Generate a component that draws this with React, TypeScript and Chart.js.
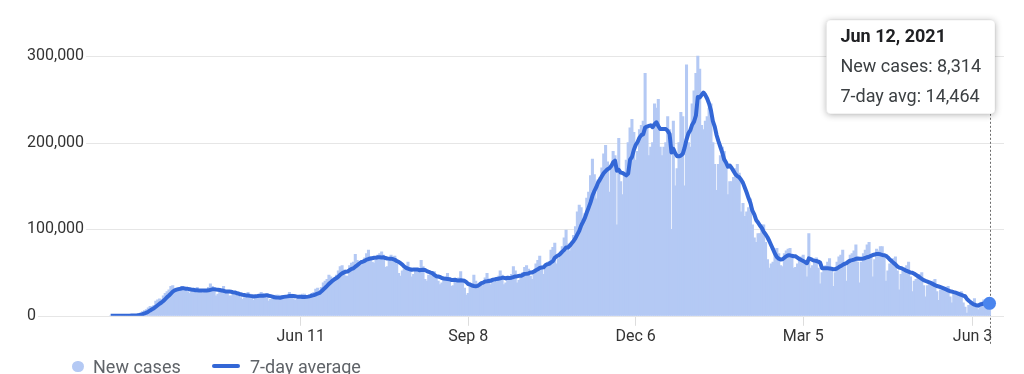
import React, { useEffect, useRef } from "react";
import { Chart, registerables, Tooltip } from "chart.js";

Chart.register(...registerables);

// ---- data (daily new cases, in thousands), first day = Mon Mar 2, 2020 ----
const START_DATE = [2020, 2, 2]; // year, monthIndex, day
const MONTHS = ["Jan", "Feb", "Mar", "Apr", "May", "Jun", "Jul", "Aug", "Sep", "Oct", "Nov", "Dec"];

const newCasesK: number[] = [
  0.02, 0.03, 0.04, 0.06, 0.07, 0.1, 0.12,
  0.12, 0.19, 0.29, 0.42, 0.55, 0.7, 0.83,
  1.3, 1.8, 3.3, 4.8, 6.0, 7.3, 9.2,
  11, 10.5, 12, 17, 18.5, 19.5, 19,
  23, 26, 28, 30, 34, 35, 29,
  29, 31, 31, 34, 33, 32, 28,
  26, 27, 30, 31, 33, 30, 27,
  26, 27, 30, 33, 37, 34, 28,
  23, 25, 28, 30, 34, 29, 27,
  23, 23, 25, 28, 28, 26, 21,
  19, 21, 22, 27, 25, 24, 18,
  22, 22, 24, 27, 26, 25, 21,
  17, 19, 20, 22, 24, 24, 20,
  21, 22, 22, 24, 27, 25, 20,
  18, 19, 21, 24, 25, 25, 21,
  20, 23, 26, 27, 31, 32, 26,
  33, 38, 40, 42, 47, 45, 40,
  44, 47, 52, 57, 58, 53, 46,
  46, 58, 61, 62, 71, 64, 59,
  58, 63, 67, 72, 76, 68, 62,
  61, 64, 70, 72, 74, 70, 56,
  57, 63, 70, 68, 69, 60, 49,
  46, 52, 54, 58, 62, 55, 45,
  48, 53, 54, 52, 64, 57, 42,
  40, 47, 47, 47, 51, 46, 40,
  36, 38, 44, 45, 49, 44, 34,
  35, 41, 38, 44, 51, 42, 32,
  24, 26, 34, 36, 47, 40, 35,
  34, 38, 39, 44, 49, 43, 36,
  43, 39, 44, 46, 52, 47, 36,
  38, 45, 42, 48, 57, 52, 38,
  41, 45, 50, 56, 58, 54, 46,
  42, 52, 60, 64, 69, 57, 48,
  58, 61, 63, 76, 79, 84, 60,
  66, 74, 80, 90, 99, 83, 75,
  85, 93, 103, 120, 128, 125, 105,
  118, 136, 143, 162, 181, 163, 135,
  157, 160, 171, 187, 197, 178, 143,
  175, 190, 185, 105, 205, 155, 140,
  165, 180, 200, 217, 227, 212, 180,
  190, 215, 220, 225, 280, 220, 185,
  195, 200, 245, 240, 250, 195, 185,
  195, 200, 230, 215, 100, 225, 150,
  170, 200, 235, 230, 150, 290, 200,
  195, 245, 260, 280, 300, 285, 220,
  215, 225, 230, 240, 245, 200, 175,
  145, 175, 185, 195, 190, 175, 140,
  155, 155, 160, 170, 175, 165, 120,
  130, 115, 120, 125, 135, 105, 90,
  85, 95, 95, 105, 105, 85, 65,
  55, 60, 62, 70, 78, 72, 58,
  57, 72, 75, 77, 78, 68, 55,
  56, 60, 66, 68, 70, 60, 45,
  95, 55, 58, 63, 67, 55, 37,
  50, 55, 58, 62, 66, 52, 34,
  50, 62, 68, 70, 76, 60, 40,
  62, 70, 72, 75, 82, 62, 38,
  62, 72, 76, 82, 85, 70, 45,
  65, 77, 75, 80, 80, 68, 40,
  52, 60, 62, 66, 68, 52, 30,
  48, 52, 55, 58, 62, 45, 28,
  40, 42, 45, 48, 50, 35, 22,
  35, 36, 38, 40, 42, 28, 18,
  30, 30, 32, 33, 34, 22, 15,
  25, 26, 27, 27, 28, 15, 10,
  3, 12, 14, 16, 20, 10, 7.104,
  12.21, 15.87, 18.325, 18.98, 20.445, 8.314,
];

const xTickIndex = [101, 190, 279, 368, 458];
const xTickLabels = ["Jun 11", "Sep 8", "Dec 6", "Mar 5", "Jun 3"];
const yTickValues = [0, 100000, 200000, 300000];
const seriesLabels = ["New cases", "7-day average"];
const tooltipLabels = ["New cases", "7-day avg"];

const BAR_COLOR = "#b4c9f4";
const LINE_COLOR = "#3367d6";
const POINT_COLOR = "#4a85ee";

const newCases = newCasesK.map((v) => Math.round(v * 1000));
const sevenDayAvg = newCases.map((_, i) => {
  const s = Math.max(0, i - 6);
  let sum = 0;
  for (let j = s; j <= i; j++) sum += newCases[j];
  return Math.round(sum / (i - s + 1));
});
const LAST = newCases.length - 1;

function dateLabel(i: number) {
  const d = new Date(Date.UTC(START_DATE[0], START_DATE[1], START_DATE[2] + i));
  return `${MONTHS[d.getUTCMonth()]} ${d.getUTCDate()}, ${d.getUTCFullYear()}`;
}

(Tooltip.positioners as any).topRightFixed = function (items: any[]) {
  if (!items || !items.length) return false;
  const el = items[0].element;
  return { x: el.x + 1.5, y: 20 };
};

const decorPlugin = {
  id: "decor",
  beforeDatasetsDraw(chart: any) {
    const { ctx, chartArea, scales } = chart;
    const y = scales.y;
    ctx.save();
    ctx.font = "16px Roboto";
    ctx.strokeStyle = "#e6e6e6";
    ctx.lineWidth = 1;
    y.ticks.forEach((t: any) => {
      const py = Math.round(y.getPixelForValue(t.value)) + 0.5;
      const w = ctx.measureText(Number(t.value).toLocaleString("en-US")).width;
      ctx.beginPath();
      ctx.moveTo(y.left + w + 2, py);
      ctx.lineTo(chartArea.right, py);
      ctx.stroke();
    });
    // dotted hover line
    const meta = chart.getDatasetMeta(1);
    const el = meta.data[LAST];
    const tt = chart.tooltip;
    if (el && tt && tt.opacity) {
      const x = Math.round(el.x) + 0.5;
      ctx.strokeStyle = "#6b6b6b";
      ctx.setLineDash([2, 2]);
      ctx.beginPath();
      ctx.moveTo(x, tt.y + tt.height);
      ctx.lineTo(x, chartArea.bottom + 30);
      ctx.stroke();
    }
    ctx.restore();
  },
  beforeTooltipDraw(chart: any, args: any) {
    const tt = args.tooltip;
    if (!tt || !tt.opacity) return;
    const { ctx } = chart;
    ctx.save();
    ctx.shadowColor = "rgba(0,0,0,0.3)";
    ctx.shadowBlur = 7;
    ctx.shadowOffsetY = 1;
    ctx.fillStyle = "#fff";
    ctx.beginPath();
    if (ctx.roundRect) ctx.roundRect(tt.x, tt.y, tt.width, tt.height, 4);
    else ctx.rect(tt.x, tt.y, tt.width, tt.height);
    ctx.fill();
    ctx.restore();
  },
};

export default function App() {
  const canvasRef = useRef<HTMLCanvasElement | null>(null);

  useEffect(() => {
    if (!canvasRef.current) return;
    Chart.defaults.font.family = "Roboto";
    const chart = new Chart(canvasRef.current, {
      type: "bar",
      data: {
        datasets: [
          {
            type: "bar",
            label: seriesLabels[0],
            data: newCases.map((v, i) => ({ x: i, y: v })),
            backgroundColor: BAR_COLOR,
            borderWidth: 0,
            barThickness: 2.4,
            order: 2,
          } as any,
          {
            type: "line",
            label: seriesLabels[1],
            data: sevenDayAvg.map((v, i) => ({ x: i, y: v })),
            borderColor: LINE_COLOR,
            borderWidth: 4,
            borderJoinStyle: "round",
            borderCapStyle: "butt",
            tension: 0,
            pointRadius: (c: any) => (c.dataIndex === LAST ? 6.5 : 0),
            pointBackgroundColor: POINT_COLOR,
            pointBorderColor: POINT_COLOR,
            pointBorderWidth: 0,
            order: 1,
          } as any,
        ],
      },
      options: {
        responsive: false,
        animation: false,
        devicePixelRatio: 1,
        events: [],
        layout: { padding: { left: 27, right: 20, top: 20, bottom: 25 } },
        scales: {
          x: {
            type: "linear",
            min: -12.3,
            max: 474.7,
            offset: false,
            afterBuildTicks: (scale: any) => {
              scale.ticks = xTickIndex.map((v) => ({ value: v }));
            },
            ticks: {
              autoSkip: false,
              maxRotation: 0,
              padding: 2,
              color: "#333",
              font: { size: 16, family: "Roboto" },
              callback: (v: any) => {
                const k = xTickIndex.indexOf(Number(v));
                return k >= 0 ? xTickLabels[k] : "";
              },
            },
            grid: {
              display: true,
              offset: false,
              drawOnChartArea: false,
              drawTicks: true,
              tickLength: 10,
              color: "#dddddd",
            },
            border: { display: false },
          },
          y: {
            type: "linear",
            min: 0,
            max: 341700,
            afterFit: (scale: any) => {
              scale.width = 60.5;
            },
            afterBuildTicks: (scale: any) => {
              scale.ticks = yTickValues.map((v) => ({ value: v }));
            },
            ticks: {
              crossAlign: "far",
              padding: 3,
              color: "#333",
              font: { size: 16, family: "Roboto" },
              callback: (v: any) => Number(v).toLocaleString("en-US"),
            },
            grid: { display: false },
            border: { display: false },
          },
        },
        plugins: {
          legend: { display: false },
          tooltip: {
            enabled: true,
            position: "topRightFixed" as any,
            xAlign: "right",
            yAlign: "top",
            caretSize: 0,
            caretPadding: 0,
            cornerRadius: 4,
            backgroundColor: "#ffffff",
            borderColor: "rgba(0,0,0,0.06)",
            borderWidth: 1,
            displayColors: false,
            titleColor: "#202124",
            bodyColor: "#3c4043",
            titleFont: { size: 18, weight: "bold", family: "Roboto" },
            bodyFont: { size: 18, family: "Roboto" },
            titleMarginBottom: 8,
            bodySpacing: 8,
            padding: { left: 14, right: 14, top: 7, bottom: 6 },
            itemSort: (a: any, b: any) => a.datasetIndex - b.datasetIndex,
            callbacks: {
              title: (items: any[]) => dateLabel(items[0].dataIndex),
              label: (item: any) =>
                `${tooltipLabels[item.datasetIndex]}: ${Number(item.parsed.y).toLocaleString("en-US")}`,
            },
          },
        },
      },
      plugins: [decorPlugin],
    });
    chart.tooltip!.setActiveElements(
      [
        { datasetIndex: 0, index: LAST },
        { datasetIndex: 1, index: LAST },
      ],
      { x: 0, y: 0 }
    );
    chart.update();
    return () => chart.destroy();
  }, []);

  const legendText: React.CSSProperties = {
    position: "absolute",
    top: 358,
    font: "18px Roboto",
    lineHeight: "18px",
    color: "#5f6368",
    whiteSpace: "nowrap",
  };

  return (
    <div
      style={{
        position: "fixed",
        left: 0,
        top: 0,
        width: 1024,
        height: 374,
        overflow: "hidden",
        background: "#fff",
      }}
    >
      <canvas ref={canvasRef} width={1024} height={374} style={{ position: "absolute", left: 0, top: 0 }} />
      <div
        style={{
          position: "absolute",
          left: 72,
          top: 360.5,
          width: 11.5,
          height: 11.5,
          borderRadius: "50%",
          background: BAR_COLOR,
        }}
      />
      <span style={{ ...legendText, left: 93 }}>{seriesLabels[0]}</span>
      <div
        style={{
          position: "absolute",
          left: 212,
          top: 363.5,
          width: 28,
          height: 4,
          borderRadius: 2,
          background: LINE_COLOR,
        }}
      />
      <span style={{ ...legendText, left: 250 }}>{seriesLabels[1]}</span>
    </div>
  );
}
